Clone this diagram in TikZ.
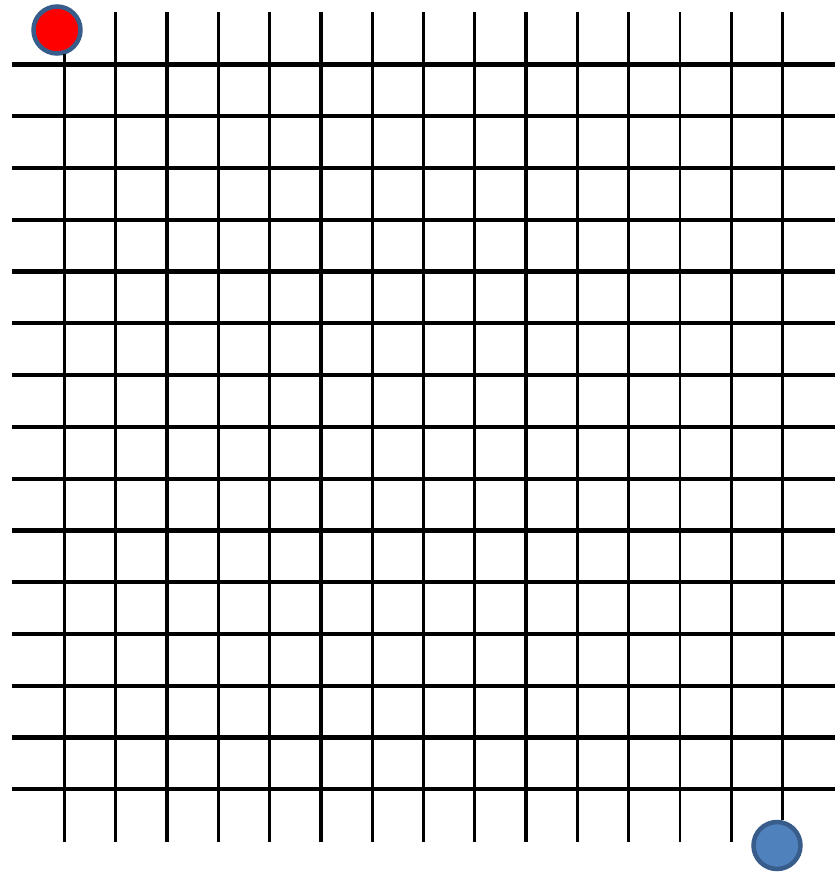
\documentclass[tikz,border=0pt]{standalone}
\begin{document}
\begin{tikzpicture}[x=1pt,y=-1pt,
  hline/.style={line width=4.2pt,black},
  vline/.style={line width=2.8pt,black},
  vthick/.style={line width=3.4pt,black},
  dot/.style={circle,minimum size=47pt,inner sep=0pt,line width=4.5pt,draw=borderblue}]
\definecolor{borderblue}{HTML}{385D8A}
\definecolor{fillblue}{HTML}{4F81BD}
\useasboundingbox (0,0) rectangle (837,879);
% horizontal lines
\foreach \j in {0,...,14}{
  \draw[hline] (12,{64.5+51.77*\j}) -- (835,{64.5+51.77*\j});
}
% vertical lines
\foreach \i/\s in {1/vline,2/vthick,3/vthick,4/vline,5/vthick,6/vline,7/vthick,8/vthick,9/vthick,10/vthick,11/vline,12/vline,13/vthick}{
  \draw[\s] ({64.3+51.3*\i},12) -- ({64.3+51.3*\i},842);
}
\node[dot,fill=red] (start) at (57,30) {};
\node[dot,fill=fillblue] (goal) at (777,845.5) {};
\draw[vthick] (64.3,54) -- (64.3,842);
\draw[vline] (782.5,12) -- (782.5,12 |- goal.north);
\end{tikzpicture}
\end{document}
